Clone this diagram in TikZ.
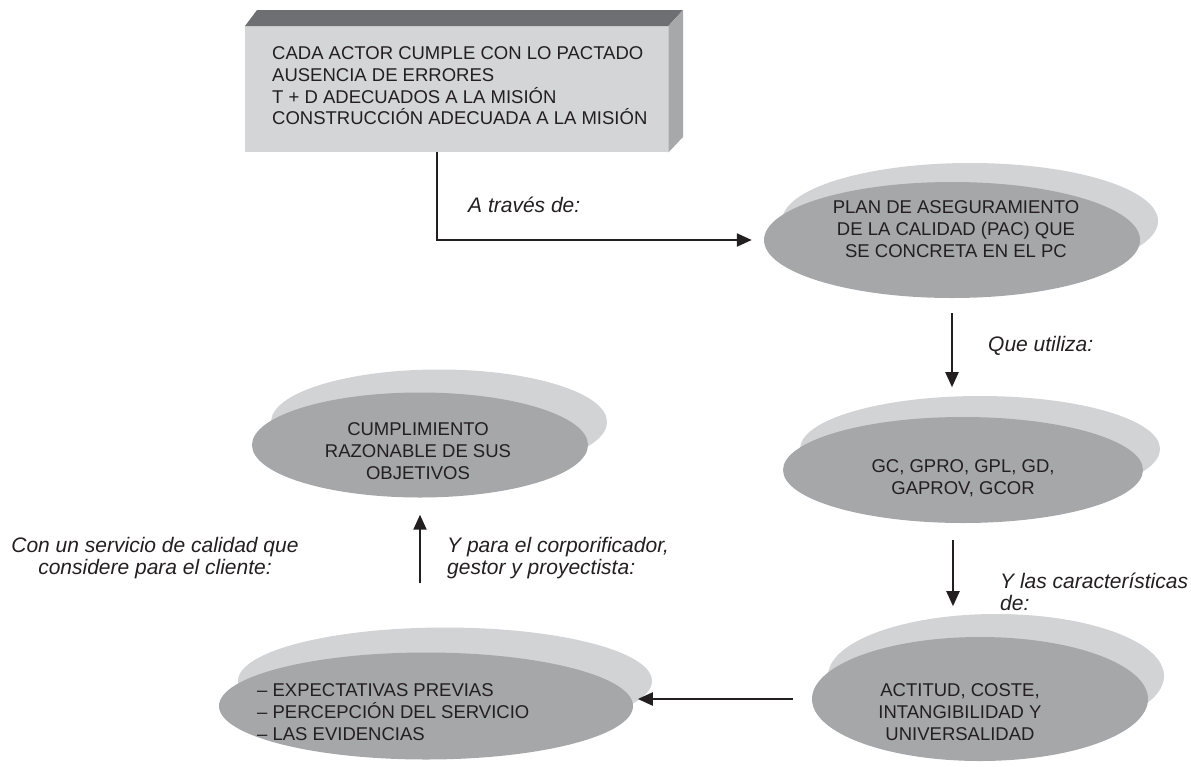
\documentclass[tikz,border=0pt]{standalone}
\usepackage{fontspec}
\setmainfont{Liberation Sans}
\usetikzlibrary{arrows.meta,shapes.geometric,calc}
\definecolor{ink}{HTML}{231F20}
\definecolor{facefront}{HTML}{D4D5D7}
\definecolor{facetop}{HTML}{6E6F72}
\definecolor{faceside}{HTML}{A7A8AA}
\definecolor{ellback}{HTML}{D2D3D5}
\definecolor{ellfront}{HTML}{A6A7A9}

\begin{document}
\begin{tikzpicture}[x=1pt,y=-1pt,
  nodetext/.style={font=\fontsize{18.5}{21.7}\selectfont, text=ink, inner sep=0pt},
  labeltext/.style={font=\fontsize{21}{22.5}\selectfont\itshape, text=ink, inner sep=0pt},
  backell/.style={ellipse, fill=ellback, inner sep=0pt},
  frontell/.style={ellipse, fill=ellfront, inner sep=0pt},
  flow/.style={draw=ink, line width=2.2pt, -{Triangle[length=15pt,width=13pt]}},
]
\useasboundingbox (0,0) rectangle (1191,766);

% bevelled box
\node[fill=facefront, inner sep=0pt, minimum width=423pt, minimum height=126pt,
      anchor=north west] (box) at (245,26) {};
\fill[facetop] (box.north west) -- (257,10) -- (683,10) -- (box.north east) -- cycle;
\fill[faceside] (box.north east) -- (683,10) -- (683,137) -- (box.south east) -- cycle;
\node[nodetext, align=left, anchor=west] (boxtxt) at (272,86)
  {CADA ACTOR CUMPLE CON LO PACTADO\\AUSENCIA DE ERRORES\\T + D ADECUADOS A LA MISIÓN\\CONSTRUCCIÓN ADECUADA A LA MISIÓN};

% stacked ellipses
\node[backell, minimum width=376pt, minimum height=116pt] (planb) at (970,221) {};
\node[frontell, minimum width=376pt, minimum height=116pt] (plan) at (952,240) {};
\node[nodetext, align=center] (plantxt) at (956,229)
  {PLAN DE ASEGURAMIENTO\\DE LA CALIDAD (PAC) QUE\\SE CONCRETA EN EL PC};

\node[backell, minimum width=360pt, minimum height=106pt] (gcb) at (980,449) {};
\node[frontell, minimum width=360pt, minimum height=106pt] (gc) at (963,470) {};
\node[nodetext, align=center] (gctxt) at (963,478)
  {GC, GPRO, GPL, GD,\\GAPROV, GCOR};

\node[backell, minimum width=336pt, minimum height=124pt] (actb) at (996,676) {};
\node[frontell, minimum width=336pt, minimum height=124pt] (act) at (980,699) {};
\node[nodetext, align=center] (acttxt) at (960,712)
  {ACTITUD, COSTE,\\INTANGIBILIDAD Y\\UNIVERSALIDAD};

\node[backell, minimum width=414pt, minimum height=107pt] (expb) at (445,681) {};
\node[frontell, minimum width=414pt, minimum height=107pt] (exp) at (426,706) {};
\node[nodetext, align=left, anchor=west] (exptxt) at (257,712)
  {– EXPECTATIVAS PREVIAS\\– PERCEPCIÓN DEL SERVICIO\\– LAS EVIDENCIAS};

\node[backell, minimum width=336pt, minimum height=105pt] (cumb) at (439,422) {};
\node[frontell, minimum width=336pt, minimum height=105pt] (cum) at (420,445) {};
\node[nodetext, align=center] (cumtxt) at (418,451)
  {CUMPLIMIENTO\\RAZONABLE DE SUS\\OBJETIVOS};

% connectors
\draw[flow] ([xshift=-19.5pt]box.south) |- ([xshift=-12pt]plan.west);
\draw[flow] ([yshift=-15pt]plan.south) -- ++(0,74);
\draw[flow] ([xshift=-10pt,yshift=-17pt]gc.south) -- ++(0,66);
\draw[flow] ([xshift=-19pt]act.west) -- ++(-155,0);
\draw[flow] ([xshift=-6pt,yshift=69pt]exp.north) -- ([yshift=-17pt]cum.south);

% labels
\node[labeltext, anchor=west] (lbla) at (468,205) {A través de:};
\node[labeltext, anchor=west] (lblb) at (988,346) {Que utiliza:};
\node[labeltext, anchor=west, align=left] (lblc) at (1000,592) {Y las características\\de:};
\node[labeltext, align=center] (lbld) at (155,558) {Con un servicio de calidad que\\considere para el cliente:};
\node[labeltext, anchor=west, align=left] (lble) at (447,558) {Y para el corporificador,\\gestor y proyectista:};
\end{tikzpicture}
\end{document}
